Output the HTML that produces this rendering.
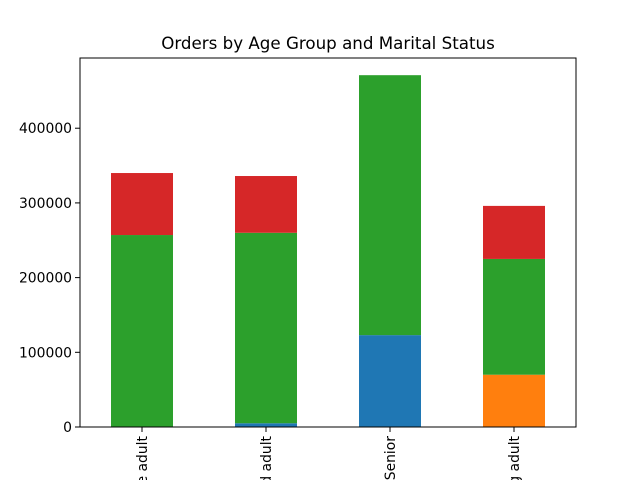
<!DOCTYPE html>
<html><head><meta charset="utf-8"><style>html,body{margin:0;background:#fff;width:640px;height:480px;overflow:hidden}svg{display:block;overflow:hidden}</style></head>
<body>
<svg id="c" width="640" height="480" xmlns="http://www.w3.org/2000/svg" font-family="DejaVu Sans, Liberation Sans, sans-serif"></svg>
<script>
const categories = ["Middle adult", "Old adult", "Senior", "Young adult"];
const seriesBlue = [0, 5000, 123000, 0];
const seriesOrange = [0, 0, 0, 70000];
const seriesGreen = [257000, 255000, 348000, 155000];
const seriesRed = [83000, 76000, 0, 71000];
const yTicks = [0, 100000, 200000, 300000, 400000];
const series = [["blue", seriesBlue, "#1f77b4"], ["orange", seriesOrange, "#ff7f0e"], ["green", seriesGreen, "#2ca02c"], ["red", seriesRed, "#d62728"]];
const svg = document.getElementById('c');
const NS = "http://www.w3.org/2000/svg";
const L = 80, R = 576, T = 58, B = 427;
const yMax = 494000;
const y = v => B - v / yMax * (B - T);
const step = (R - L) / categories.length;
const x = i => L + step * (i + 0.5);
const bw = 62;
function mk(tag, attrs, parent) {
  const e = document.createElementNS(NS, tag);
  for (const k in attrs) e.setAttribute(k, attrs[k]);
  (parent || svg).appendChild(e);
  return e;
}
const t = mk('text', {x: 328, y: 49, 'text-anchor': 'middle', 'font-size': 16.7, fill: '#000'});


t.textContent = 'Orders by Age Group and Marital Status';
const base = categories.map(() => 0);
series.forEach(([name, vals, col]) => {
  vals.forEach((v, i) => {
    if (v <= 0) return;
    const r = mk('rect', {x: x(i) - bw / 2, y: y(base[i] + v), width: bw, height: y(base[i]) - y(base[i] + v), fill: col});
    
    
    base[i] += v;
  });
});
const frame = mk('rect', {x: L, y: T, width: R - L, height: B - T, fill: 'none', stroke: '#000', 'stroke-width': 1});


yTicks.forEach(v => {
  const tk = mk('line', {x1: L - 5, x2: L, y1: y(v), y2: y(v), stroke: '#000'});
  
  
  const lb = mk('text', {x: L - 8, y: y(v) + 5, 'text-anchor': 'end', 'font-size': 13.9});
  
  
  lb.textContent = v;
});
categories.forEach((c, i) => {
  const tk = mk('line', {x1: x(i), x2: x(i), y1: B, y2: B + 5, stroke: '#000'});
  
  
  const lb = mk('text', {x: 0, y: 0, 'text-anchor': 'end', 'font-size': 13.9, transform: `translate(${x(i) + 5},${B + 9}) rotate(-90)`});
  
  
  lb.textContent = c;
});
</script>
</body></html>
